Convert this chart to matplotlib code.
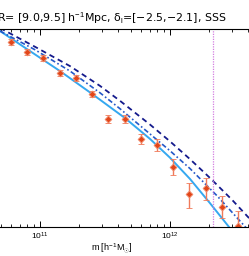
import numpy as np
import matplotlib
matplotlib.use("Agg")
import matplotlib.pyplot as plt
from matplotlib.ticker import LogLocator, NullFormatter

plt.rcParams['font.family'] = ['Liberation Sans', 'DejaVu Sans']
plt.rcParams['mathtext.fontset'] = 'custom'
plt.rcParams['mathtext.rm'] = 'Liberation Sans'
plt.rcParams['mathtext.it'] = 'Liberation Sans:italic'

# data points (log10 mass, log10 n)
logm_pts = [10.775, 10.9, 11.025, 11.15, 11.275, 11.4, 11.525, 11.65,
            11.775, 11.9, 12.025, 12.15, 12.275, 12.4, 12.525]
logn_pts = [-0.26, -0.47, -0.59, -0.89, -0.99, -1.31, -1.82, -1.82,
            -2.22, -2.34, -2.79, -3.33, -3.21, -3.60, -3.98]
err_lo = [0.06, 0.06, 0.06, 0.06, 0.06, 0.06, 0.08, 0.08,
          0.10, 0.12, 0.16, 0.28, 0.24, 0.22, 0.50]
err_hi = [0.06, 0.06, 0.06, 0.06, 0.06, 0.06, 0.08, 0.08,
          0.10, 0.12, 0.16, 0.22, 0.20, 0.22, 0.30]

# model curves
logm_solid = [10.692, 10.908, 11.154, 11.4, 11.654, 11.846, 12.0, 12.154, 12.308, 12.454, 12.577]
logn_solid = [-0.04, -0.42, -0.85, -1.31, -1.80, -2.22, -2.60, -3.03, -3.52, -4.00, -4.45]

logm_dash = [10.692, 10.962, 11.231, 11.462, 11.615, 11.846, 12.0, 12.154, 12.308, 12.477, 12.608]
logn_dash = [0.02, -0.36, -0.75, -1.15, -1.45, -1.93, -2.27, -2.63, -3.01, -3.45, -3.82]

logm_dd = [10.692, 10.962, 11.231, 11.462, 11.615, 11.846, 12.0, 12.154, 12.362, 12.608]
logn_dd = [-0.04, -0.42, -0.85, -1.29, -1.61, -2.12, -2.46, -2.82, -3.37, -4.08]

m_cut = 10**12.331

fig = plt.figure(figsize=(2.49, 2.56), dpi=100)
ax = fig.add_axes([0, (256 - 227) / 256, 1, (227 - 29) / 256])

ax.plot(10**np.array(logm_solid), 10**np.array(logn_solid), color='#35a8f0', lw=1.4)
ax.plot(10**np.array(logm_dash), 10**np.array(logn_dash), color='#141a8c', lw=1.3,
        dashes=(3, 2.2))
ax.plot(10**np.array(logm_dd), 10**np.array(logn_dd), color='#2558c8', lw=1.2,
        dashes=(3, 1.5, 1, 1.5))

mp = 10**np.array(logm_pts)
npts = 10**np.array(logn_pts)
lo = npts - 10**(np.array(logn_pts) - np.array(err_lo))
hi = 10**(np.array(logn_pts) + np.array(err_hi)) - npts
ax.errorbar(mp, npts, yerr=[lo, hi], fmt='D', color='#e2461a', ms=3.5,
            mec='#f08a6a', mew=0.6, ecolor='#f07a5a', elinewidth=1.0,
            capsize=2, capthick=0.8)

ax.axvline(m_cut, color='#d47ee0', lw=0.9, ls=(0, (1, 1)))

ax.set_xscale('log')
ax.set_yscale('log')
ax.set_xlim(10**10.6923, 10**12.6077)
ax.set_ylim(1e-4, 1e0)

ax.spines['left'].set_visible(False)
ax.spines['right'].set_visible(False)
for s in ['top', 'bottom']:
    ax.spines[s].set_linewidth(0.8)
ax.set_yticks([])
ax.yaxis.set_minor_locator(matplotlib.ticker.NullLocator())
ax.xaxis.set_major_locator(LogLocator(base=10, numticks=10))
ax.xaxis.set_minor_locator(LogLocator(base=10, subs=np.arange(2, 10), numticks=20))
ax.xaxis.set_minor_formatter(NullFormatter())
ax.tick_params(axis='x', which='both', direction='in', top=True, labelsize=6, pad=3)
ax.tick_params(axis='x', which='major', length=4, width=0.7)
ax.tick_params(axis='x', which='minor', length=2.5, width=0.6)

ax.set_xlabel(r'm [h$^{-1}$M$_{\odot}$]', fontsize=6.5)
ax.xaxis.set_label_coords(112 / 249, -(248 - 227) / 198, transform=ax.transAxes)
ax.xaxis.label.set_va('center')
fig.text(-3 / 249, 1 - 22 / 256,
         'R= [9.0,9.5] h$^{-1}$Mpc, δ$_{\\rm l}$=[−2.5,−2.1], SSS',
         fontsize=7.9, family='DejaVu Sans', ha='left', va='baseline')

fig.savefig('out.png', dpi=100)
